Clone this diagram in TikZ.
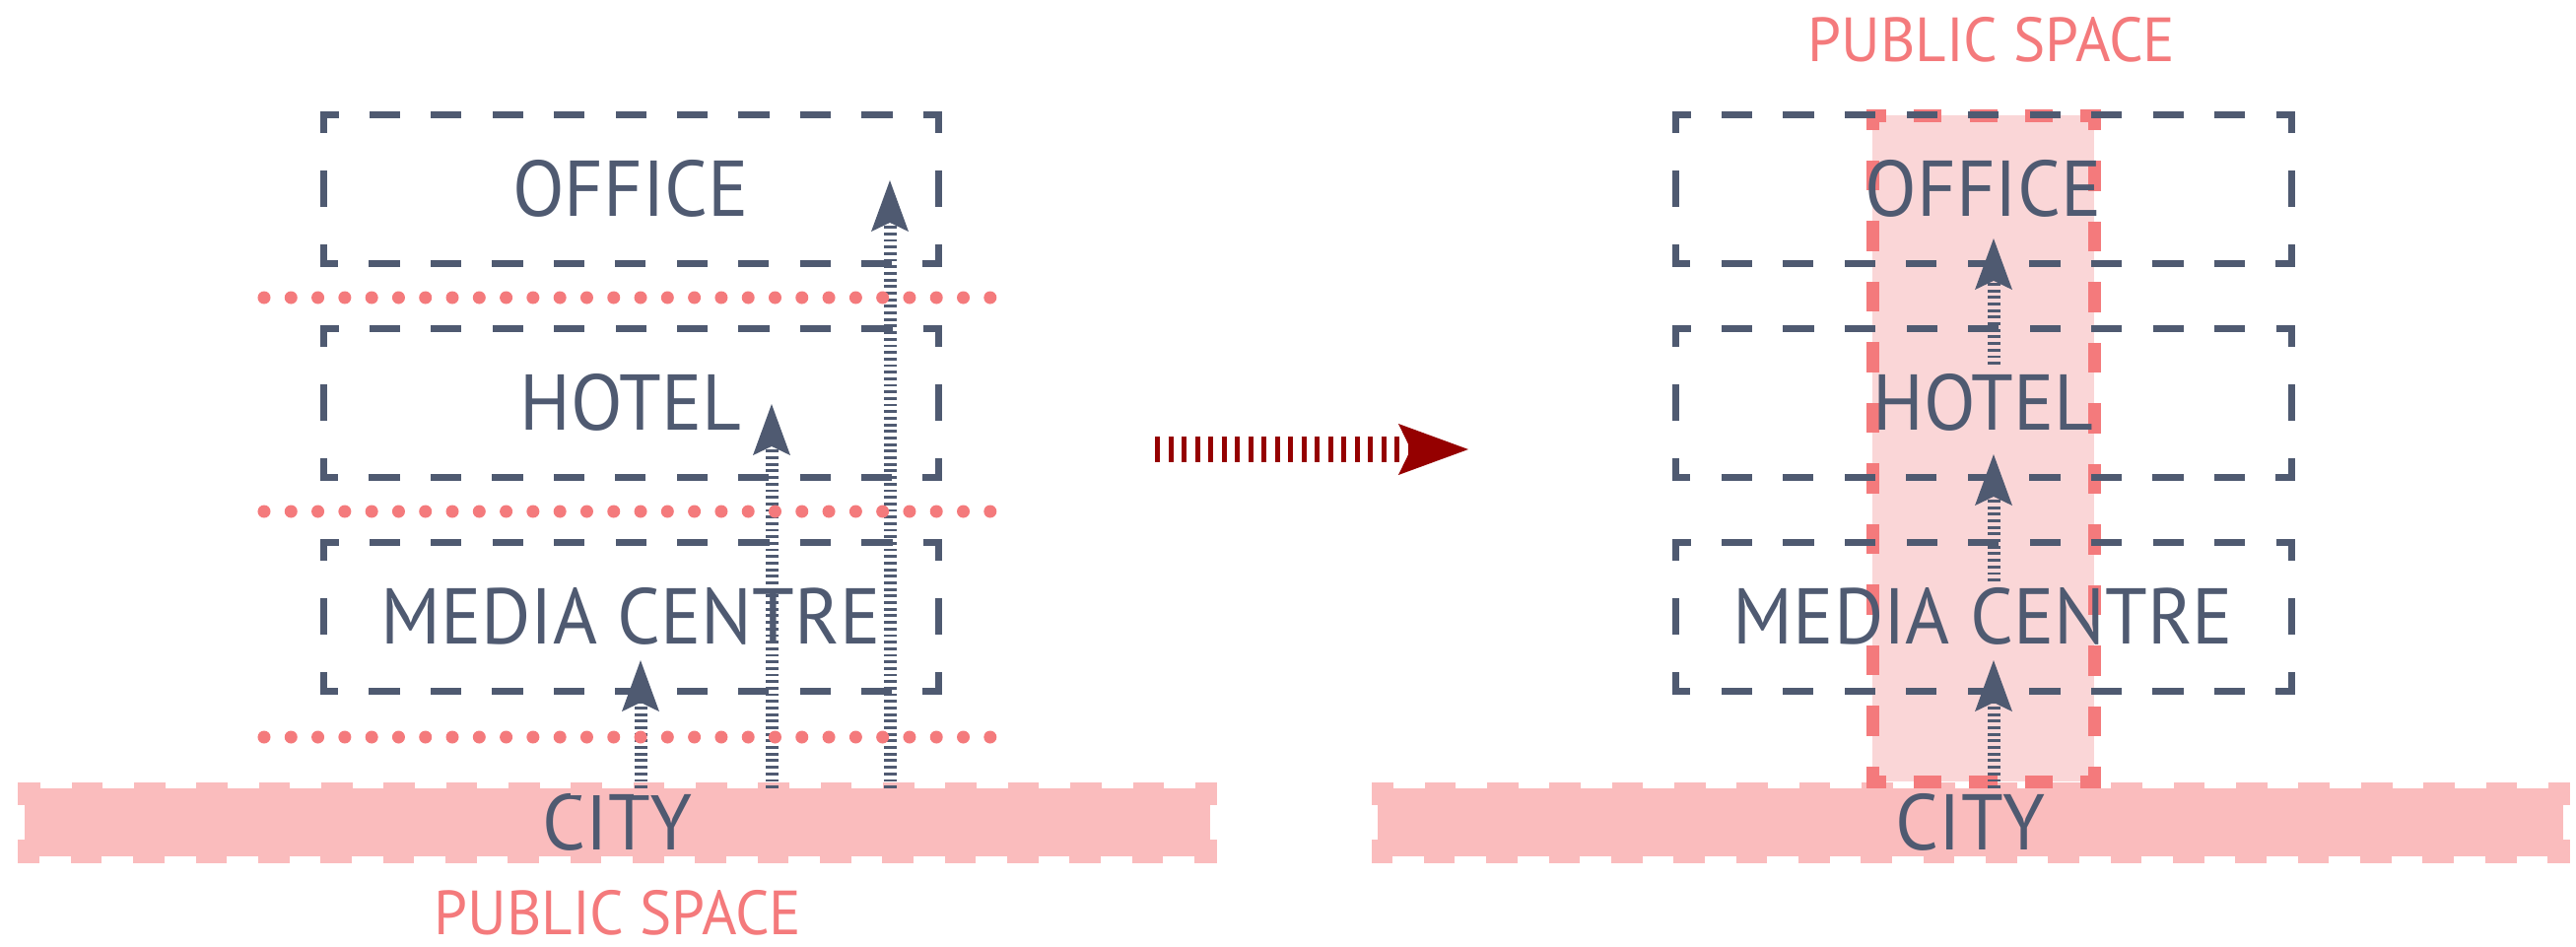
\documentclass[tikz,border=0pt]{standalone}
\usepackage{fontspec}
\setmainfont{PT Sans}[FakeStretch=0.96]
\usetikzlibrary{arrows.meta}
\definecolor{slate}{RGB}{79,90,113}
\definecolor{salmon}{RGB}{244,122,124}
\definecolor{cityfill}{RGB}{250,188,189}
\definecolor{colfill}{RGB}{250,214,215}
\definecolor{darkred}{RGB}{149,0,0}
% one side of a dashed outline whose dashes are aligned to the corners
% #1 style, #2 from, #3 to, #4 length (px), #5 wanted period (px), #6 line width (pt)
\newcommand{\alignside}[6]{%
  \pgfmathsetmacro{\myN}{max(1,round((#4)/(#5)))}%
  \pgfmathsetmacro{\myP}{(#4)/\myN*0.284528}%
  \pgfmathsetmacro{\myOn}{\myP/2-#6}%
  \pgfmathsetmacro{\myOff}{\myP/2+#6}%
  \pgfmathsetmacro{\myPh}{\myP/4-#6/2}%
  \draw[#1, line width=#6pt, line cap=rect, dash pattern=on \myOn pt off \myOff pt, dash phase=\myPh pt] #2 -- #3;%
}
% #1 name, #2 x1, #3 y1, #4 x2, #5 y2, #6 text
\newcommand{\roombox}[6]{%
  \node[boxlabel, minimum width={(#4-#2)*0.01cm}, minimum height={(#5-#3)*0.01cm}] (#1) at ({(#2+#4)/2},{(#3+#5)/2}) {#6};
  \alignside{slate}{(#1.north west)}{(#1.north east)}{#4-#2}{62}{1.99}
  \alignside{slate}{(#1.north east)}{(#1.south east)}{#5-#3}{62}{1.99}
  \alignside{slate}{(#1.south east)}{(#1.south west)}{#4-#2}{62}{1.99}
  \alignside{slate}{(#1.south west)}{(#1.north west)}{#5-#3}{62}{1.99}
}
\tikzset{
  boxlabel/.style={inner sep=0pt, outer sep=0pt, text=slate, font=\fontsize{22.8pt}{24pt}\selectfont},
  redlabel/.style={inner sep=0pt, text=salmon, font=\fontsize{18pt}{19pt}\selectfont},
  band/.style={inner sep=0pt, outer sep=0pt, fill=cityfill, text=slate, font=\fontsize{22.8pt}{24pt}\selectfont},
  ladder/.style={draw=slate, line width=3.7pt, dash pattern=on 0.8pt off 1.1pt,
    -{Stealth[length=14.8pt, width=10.8pt, inset=2.6pt, line width=0pt, fill=slate]}},
  redladder/.style={draw=darkred, line width=7.4pt, dash pattern=on 1.42pt off 2.42pt,
    -{Stealth[length=20.2pt, width=14.8pt, inset=3.6pt, line width=0pt, fill=darkred]}},
  dotline/.style={draw=salmon, line width=3.7pt, line cap=round, dash pattern=on 0pt off 7.76pt},
}
\begin{document}
\begin{tikzpicture}[x=0.01cm, y=-0.01cm]
\useasboundingbox (0,0) rectangle (2614,960);
% ---------- city bands ----------
\node[band, minimum width={1203*0.01cm}, minimum height={69*0.01cm}] (cityL) at (626.5,834.5) {CITY};
\alignside{cityfill}{(cityL.north west)}{(cityL.north east)}{1203}{63}{3.7}
\alignside{cityfill}{(cityL.north east)}{(cityL.south east)}{69}{63}{3.7}
\alignside{cityfill}{(cityL.south east)}{(cityL.south west)}{1203}{63}{3.7}
\alignside{cityfill}{(cityL.south west)}{(cityL.north west)}{69}{63}{3.7}
\node[band, minimum width={1203*0.01cm}, minimum height={69*0.01cm}] (cityR) at (1999.5,834.5) {};
\alignside{cityfill}{(cityR.north west)}{(cityR.north east)}{1203}{63}{3.7}
\alignside{cityfill}{(cityR.north east)}{(cityR.south east)}{69}{63}{3.7}
\alignside{cityfill}{(cityR.south east)}{(cityR.south west)}{1203}{63}{3.7}
\alignside{cityfill}{(cityR.south west)}{(cityR.north west)}{69}{63}{3.7}
% ---------- public space column ----------
\node[inner sep=0pt, outer sep=0pt, fill=colfill, minimum width={225*0.01cm}, minimum height={676*0.01cm}] (column) at (2012.5,455) {};
\alignside{salmon}{(column.north west)}{(column.north east)}{225}{56}{3.7}
\alignside{salmon}{(column.north east)}{(column.south east)}{676}{62}{3.7}
\alignside{salmon}{(column.south east)}{(column.south west)}{225}{56}{3.7}
\alignside{salmon}{(column.south west)}{(column.north west)}{676}{62}{3.7}
\node[band, fill=none] (cityRtext) at (cityR.center) {CITY};
% ---------- boxes ----------
\roombox{officeL}{328}{116}{952}{267}{OFFICE}
\roombox{hotelL}{328}{333}{952}{484}{HOTEL}
\roombox{mediaL}{328}{550}{952}{701}{MEDIA CENTRE}
\roombox{officeR}{1700}{116}{2325}{267}{OFFICE}
\roombox{hotelR}{1700}{333}{2325}{484}{HOTEL}
\roombox{mediaR}{1700}{550}{2325}{701}{MEDIA CENTRE}
% ---------- labels ----------
\node[redlabel] (psL) at (627,926) {PUBLIC SPACE};
\node[redlabel] (psR) at (2021,40) {PUBLIC SPACE};
% ---------- left arrows ----------
\coordinate (tL1) at (650,670);
\coordinate (tL2) at (783,410);
\coordinate (tL3) at (903,183);
\draw[ladder] (cityL.north -| tL1) -- (tL1);
\draw[ladder] (cityL.north -| tL2) -- (tL2);
\draw[ladder] (cityL.north -| tL3) -- (tL3);
% ---------- right arrows ----------
\coordinate (sR2) at (2023,590);
\coordinate (sR3) at (2023,370);
\coordinate (tR1) at (2023,670);
\coordinate (tR2) at (2023,461);
\coordinate (tR3) at (2023,242);
\draw[ladder] (cityR.north -| tR1) -- (tR1);
\draw[ladder] (sR2) -- (tR2);
\draw[ladder] (sR3) -- (tR3);
% ---------- dotted floor lines ----------
\coordinate (d1a) at (268,302); \coordinate (d1b) at (1008,302);
\coordinate (d2a) at (268,519); \coordinate (d2b) at (1008,519);
\coordinate (d3a) at (268,748); \coordinate (d3b) at (1008,748);
\draw[dotline] (d1a) -- (d1b);
\draw[dotline] (d2a) -- (d2b);
\draw[dotline] (d3a) -- (d3b);
% ---------- transformation arrow ----------
\coordinate (ra) at (1172,456);
\coordinate (rb) at (1490,456);
\draw[redladder] (ra) -- (rb);
\end{tikzpicture}
\end{document}
